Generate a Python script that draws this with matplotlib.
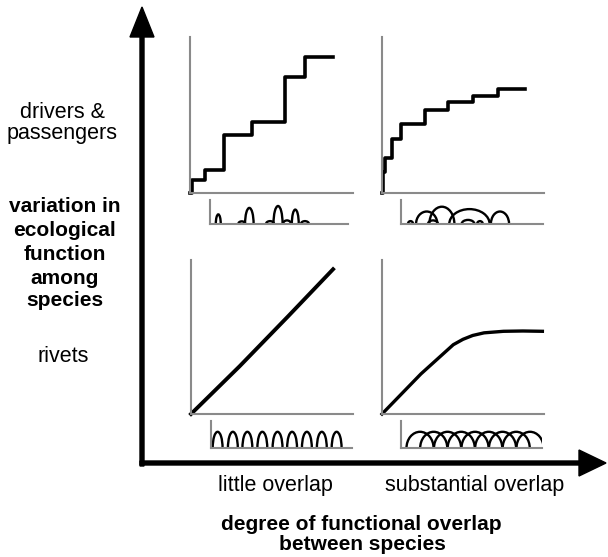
import matplotlib
matplotlib.use("Agg")
import matplotlib.pyplot as plt
from matplotlib.patches import Arc

plt.rcParams['font.family'] = ['Liberation Sans', 'DejaVu Sans']

W, H = 608, 557

# cumulative ecological function, step curves (fraction of panel)
tl_x = [0, 0.012, 0.092, 0.21, 0.378, 0.584, 0.704, 0.878]
tl_y = [0, 0.081, 0.15, 0.37, 0.455, 0.744, 0.872, 0.872]
tr_x = [0, 0.004, 0.021, 0.062, 0.117, 0.267, 0.405, 0.561, 0.719, 0.883]
tr_y = [0, 0.135, 0.224, 0.348, 0.444, 0.53, 0.583, 0.622, 0.665, 0.665]

# smooth curves for rivets
bl_x = [0, 0.3, 0.6, 0.877]
bl_y = [0, 0.31, 0.635, 0.94]
br_x = [0, 0.24, 0.44, 0.5, 0.56, 0.63, 0.75, 0.87, 0.99]
br_y = [0, 0.26, 0.45, 0.485, 0.51, 0.527, 0.537, 0.539, 0.537]

# species niches (centre, half-width, height)
tl_c = [0.06, 0.23, 0.285, 0.435, 0.493, 0.558, 0.618, 0.688]
tl_w = [0.018, 0.025, 0.031, 0.029, 0.033, 0.029, 0.025, 0.029]
tl_h = [0.40, 0.11, 0.67, 0.12, 0.75, 0.15, 0.60, 0.12]

tr_c = [0.067, 0.181, 0.225, 0.288, 0.472, 0.482, 0.556, 0.697]
tr_w = [0.018, 0.075, 0.035, 0.088, 0.045, 0.142, 0.02, 0.064]
tr_h = [0.12, 0.52, 0.15, 0.72, 0.17, 0.62, 0.12, 0.52]

bl_c = [0.047, 0.155, 0.258, 0.364, 0.472, 0.575, 0.68, 0.786, 0.891]
bl_w = 0.035
bl_h = 0.6

br_c = [0.135, 0.232, 0.33, 0.427, 0.525, 0.622, 0.72, 0.817, 0.915]
br_w = 0.096
br_h = 0.6

fig = plt.figure(figsize=(W / 100, H / 100), dpi=100)

# background layer in pixel coordinates for arrows and text
bg = fig.add_axes([0, 0, 1, 1])
bg.set_xlim(0, W)
bg.set_ylim(H, 0)
bg.axis('off')

bg.arrow(142, 466, 0, -459, width=4, head_width=24, head_length=30,
         length_includes_head=True, color='black')
bg.arrow(140, 463, 466, 0, width=4, head_width=26, head_length=27,
         length_includes_head=True, color='black')

bg.text(62, 112, 'drivers &', ha='center', va='center', fontsize=15.5)
bg.text(62, 133, 'passengers', ha='center', va='center', fontsize=15.5)
for yy, line in zip([206, 230, 254, 278, 301],
                    ['variation in', 'ecological', 'function', 'among', 'species']):
    bg.text(65, yy, line, ha='center', va='center', fontsize=15, fontweight='bold')
bg.text(63, 357, 'rivets', ha='center', va='center', fontsize=15.5)
bg.text(275, 485, 'little overlap', ha='center', va='center', fontsize=15.5)
bg.text(475, 485, 'substantial overlap', ha='center', va='center', fontsize=15.5)
bg.text(361, 524, 'degree of functional overlap', ha='center', va='center',
        fontsize=15, fontweight='bold')
bg.text(362, 545, 'between species', ha='center', va='center',
        fontsize=15, fontweight='bold')


def add_box(l, t, r, b):
    ax = fig.add_axes([l / W, 1 - b / H, (r - l) / W, (b - t) / H])
    ax.set_xlim(0, 1)
    ax.set_ylim(0, 1)
    ax.patch.set_alpha(0)
    for s in ['top', 'right']:
        ax.spines[s].set_visible(False)
    for s in ['left', 'bottom']:
        ax.spines[s].set_color('#8a8a8a')
        ax.spines[s].set_linewidth(1.5)
    ax.set_xticks([])
    ax.set_yticks([])
    return ax


def draw_niches(ax, centres, halfw, heights):
    if not isinstance(halfw, list):
        halfw = [halfw] * len(centres)
    if not isinstance(heights, list):
        heights = [heights] * len(centres)
    for c, w, h in zip(centres, halfw, heights):
        ax.add_patch(Arc((c, 0), 2 * w, 2 * h, theta1=0, theta2=180,
                         color='black', lw=1.7))


ax = add_box(190, 37, 353, 193)
ax.step(tl_x, tl_y, where='post', color='black', lw=2.6, clip_on=False)
ax = add_box(382, 37, 544, 193)
ax.step(tr_x, tr_y, where='post', color='black', lw=2.6, clip_on=False)
ax = add_box(191, 260, 353, 414)
ax.plot(bl_x, bl_y, color='black', lw=2.8, clip_on=False)
ax = add_box(382, 260, 544, 414)
ax.plot(br_x, br_y, color='black', lw=2.4, clip_on=False)

ax = add_box(210, 200, 348, 224)
draw_niches(ax, tl_c, tl_w, tl_h)
ax = add_box(401, 200, 543, 224)
draw_niches(ax, tr_c, tr_w, tr_h)
ax = add_box(211, 421, 352, 448)
draw_niches(ax, bl_c, bl_w, bl_h)
ax = add_box(401, 421, 542, 448)
draw_niches(ax, br_c, br_w, br_h)

fig.savefig('out.png', dpi=100)
